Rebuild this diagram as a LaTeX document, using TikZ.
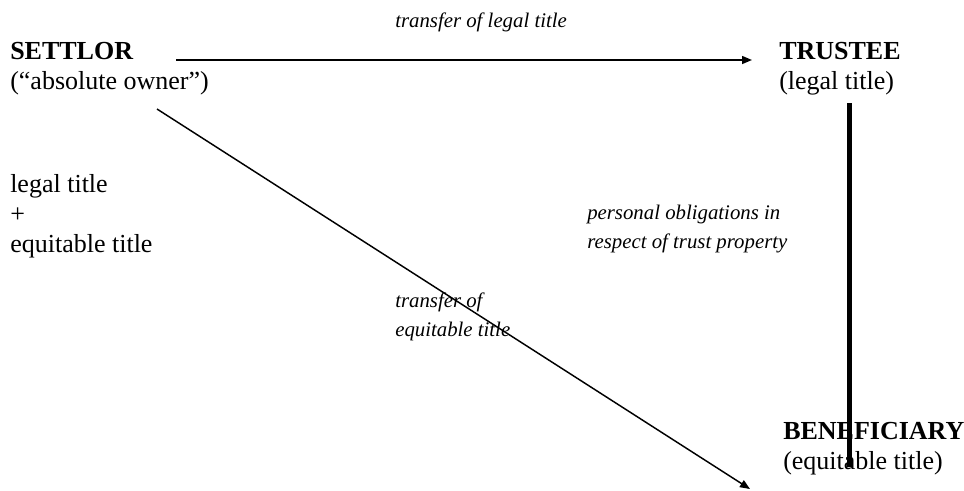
\documentclass[tikz,border=0pt]{standalone}
\usepackage{fontspec}
\setmainfont{Liberation Serif}
\usepackage{tikz}
\usetikzlibrary{arrows.meta,positioning}

\begin{document}
\begin{tikzpicture}[x=0.75pt,y=0.75pt,yscale=-1,xscale=1,
    party/.style={anchor=north west,inner sep=0pt,align=left,font=\fontsize{19.5}{22.5}\selectfont},
    remark/.style={anchor=north west,inner sep=0pt,align=left,font=\fontsize{15.6}{21.75}\selectfont\itshape},
    flow/.style={line width=1.1pt,-{Triangle[length=7.5pt,width=6pt]}},
    bond/.style={line width=3.75pt}]
    \useasboundingbox (0,0) rectangle (964,490);

    % Text Node
    \draw (10,42) node [party] (settlor) {\textbf{SETTLOR}\\(“absolute owner”)};
    % Text Node
    \draw (779,42) node [party] (trustee) {\textbf{TRUSTEE}\\(legal title)};
    % Text Node
    \draw (783,422) node [party] (beneficiary) {\textbf{BENEFICIARY}\\(equitable title)};
    % Text Node
    \draw (10,174) node [party] (holding) {legal title\\+\\equitable title};

    % Text Node
    \draw (395,13) node [remark] (legalnote) {transfer of legal title};
    % Text Node
    \draw (587,205) node [remark] (dutynote) {personal obligations in\\respect of trust property};
    % Text Node
    \draw (395,293) node [remark] (equitynote) {transfer of\\equitable title};

    %Straight Lines
    \draw [flow] ([xshift=124.5pt,yshift=13.5pt]settlor.north west) -- ([xshift=-20.25pt,yshift=13.5pt]trustee.north west);
    \draw [flow] ([xshift=110.25pt,yshift=50.25pt]settlor.north west) -- ([xshift=-24.75pt,yshift=50.25pt]beneficiary.north west);
    \draw [bond] ([xshift=52.5pt,yshift=45.75pt]trustee.north west) -- ([xshift=49.5pt,yshift=33.75pt]beneficiary.north west);

\end{tikzpicture}
\end{document}
